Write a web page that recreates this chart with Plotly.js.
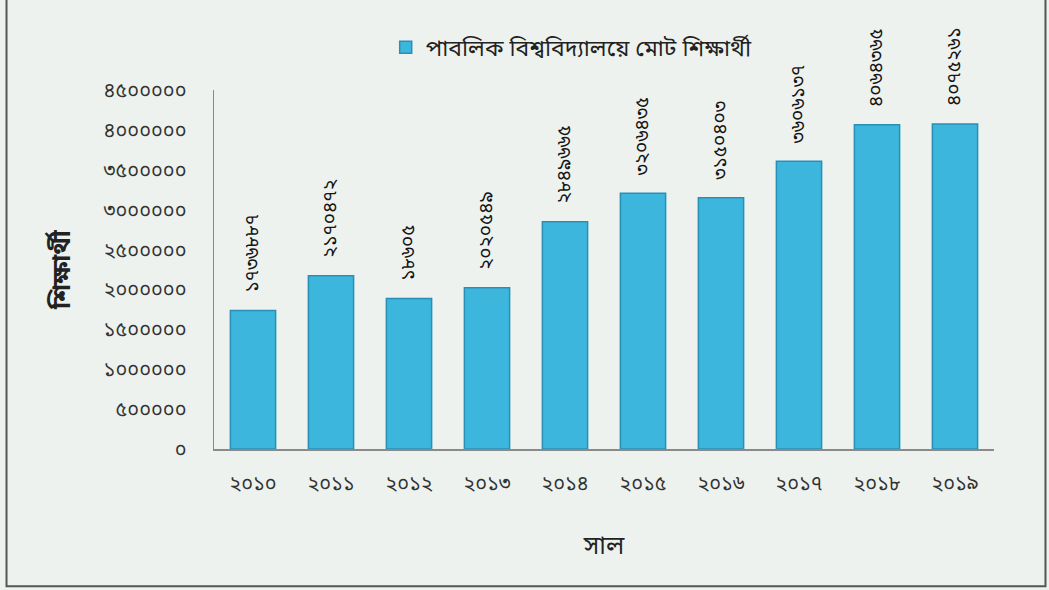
<!DOCTYPE html>
<html>
<head>
<meta charset="utf-8">
<script src="https://cdn.plot.ly/plotly-3.0.1.min.js"></script>
<style>
html,body{margin:0;padding:0;background:#edf2ee;}
#chart{width:1049px;height:590px;}
</style>
</head>
<body>
<div id="chart"></div>
<script>
// Data
var years = ['২০১০','২০১১','২০১২','২০১৩','২০১৪','২০১৫','২০১৬','২০১৭','২০১৮','২০১৯'];
var students = [1736887, 2170472, 1886000, 2020549, 2849665, 3206435, 3150403, 3606137, 4064365, 4075261];
var valueLabels = ['১৭৩৬৮৮৭','২১৭০৪৭২','১৮৬০৫','২০২০৫৪৯','২৮৪৯৬৬৫','৩২০৬৪৩৫','৩১৫০৪০৩','৩৬০৬১৩৭','৪০৬৪৩৬৫','৪০৭৫২৬১'];
var yTickVals = [0, 500000, 1000000, 1500000, 2000000, 2500000, 3000000, 3500000, 4000000, 4500000];
var yTickText = ['০','৫০০০০০','১০০০০০০','১৫০০০০০','২০০০০০০','২৫০০০০০','৩০০০০০০','৩৫০০০০০','৪০০০০০০','৪৫০০০০০'];
var seriesName = 'পাবলিক বিশ্ববিদ্যালয়ে মোট শিক্ষার্থী';
var xTitle = 'সাল';
var yTitle = 'শিক্ষার্থী';

var FONT = '"Noto Sans Bengali", "Noto Sans", "DejaVu Sans", sans-serif';
var PAD = '\u00a0\u00a0\u00a0';

var trace = {
  type: 'bar',
  x: years,
  y: students,
  name: seriesName,
  text: valueLabels.map(function (s) { return PAD + s; }),
  textposition: 'outside',
  textangle: -90,
  constraintext: 'none',
  cliponaxis: false,
  textfont: {family: FONT, size: 19, color: '#151515'},
  marker: {color: '#3cb6dc', line: {color: '#2a8fb5', width: 1.5}},
  hoverinfo: 'x+y'
};

var layout = {
  width: 1049,
  height: 590,
  paper_bgcolor: '#edf2ee',
  plot_bgcolor: '#edf2ee',
  margin: {l: 214, r: 55, t: 90, b: 141},
  font: {family: FONT, color: '#333333'},
  bargap: 0.42,
  showlegend: true,
  legend: {
    orientation: 'h',
    xref: 'container', yref: 'container',
    x: 0.545, xanchor: 'center',
    y: 0.92, yanchor: 'middle',
    font: {family: FONT, size: 23, color: '#222222'},
    itemwidth: 30,
    bgcolor: 'rgba(0,0,0,0)'
  },
  xaxis: {
    type: 'category',
    showline: true,
    linecolor: '#8a8a8a',
    linewidth: 1.5,
    ticks: '',
    ticklabelstandoff: 15,
    tickfont: {family: FONT, size: 20, color: '#333333'},
    title: {text: xTitle, font: {family: FONT, size: 25, color: '#222222'}, standoff: 40},
    automargin: false,
    fixedrange: true
  },
  yaxis: {
    range: [0, 4500000],
    tickvals: yTickVals,
    ticktext: yTickText,
    showgrid: false,
    zeroline: false,
    showline: true,
    linecolor: '#8a8a8a',
    linewidth: 1.5,
    ticks: '',
    ticklabelstandoff: 22,
    tickfont: {family: FONT, size: 20, color: '#333333'},
    title: {text: '<b>' + yTitle + '</b>', font: {family: FONT, size: 25, color: '#222222'}, standoff: 26},
    automargin: false,
    fixedrange: true
  },
  shapes: [{
    type: 'rect', xref: 'paper', yref: 'paper',
    x0: -0.266, x1: 1.066, y0: -0.382, y1: 1.3,
    line: {color: '#555555', width: 2}
  }]
};

Plotly.newPlot('chart', [trace], layout, {displayModeBar: false, staticPlot: true});
</script>
</body>
</html>
